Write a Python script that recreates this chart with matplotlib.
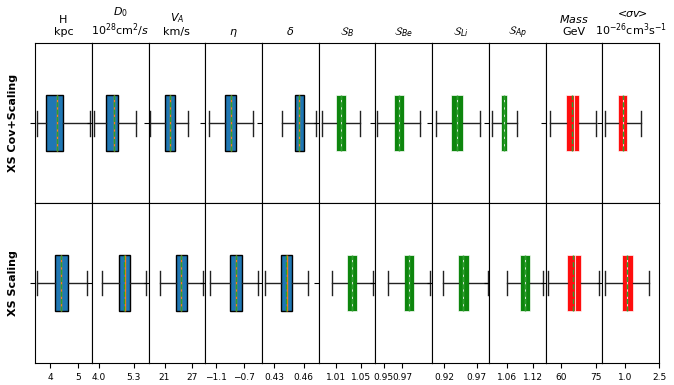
import numpy as np
import matplotlib
matplotlib.use("Agg")
import matplotlib.pyplot as plt

# column titles
titles = ["H\nkpc", "$D_0$\n$10^{28}$cm$^2/s$", "$V_A$\nkm/s", r"$\eta$", r"$\delta$",
          r"$\mathcal{S}_B$", r"$\mathcal{S}_{Be}$", r"$\mathcal{S}_{Li}$", r"$\mathcal{S}_{Ap}$",
          "$Mass$\nGeV", "$<\\!\\!\\sigma v\\!\\!>$\n$10^{-26}$cm$^3$s$^{-1}$"]
row_labels = ["XS Cov+Scaling", "XS Scaling"]
colors = ["C0"] * 5 + ["green"] * 4 + ["red"] * 2

# box stats per column: whislo, q1, med, q3, whishi, mean
cov_whislo = [3.53, 3.84, 17.9, -1.21, 0.438, 0.987, 0.9433, 0.9069, 1.0255, 55.1, 0.106]
cov_q1 = [3.83, 4.26, 21.15, -0.976, 0.451, 1.0095, 0.9609, 0.9307, 1.0455, 62.3, 0.69]
cov_med = [4.26, 4.57, 22.1, -0.895, 0.4554, 1.0175, 0.9667, 0.9398, 1.053, 65.6, 0.925]
cov_q3 = [4.47, 4.72, 23.2, -0.814, 0.4597, 1.0255, 0.9725, 0.9487, 1.0607, 67.6, 1.10]
cov_whishi = [5.44, 5.41, 26.1, -0.57, 0.4727, 1.048, 0.9891, 0.9752, 1.0822, 75.1, 1.70]
cov_mean = [4.25, 4.56, 22.1, -0.896, 0.4553, 1.0175, 0.9667, 0.9398, 1.053, 64.6, 0.90]

sc_whislo = [3.53, 4.14, 19.9, -1.196, 0.4214, 1.0025, 0.9543, 0.918, 1.0607, 54.6, 0.13]
sc_q1 = [4.17, 4.76, 23.5, -0.91, 0.4374, 1.0272, 0.9717, 0.9413, 1.09, 62.7, 0.855]
sc_med = [4.41, 4.97, 24.6, -0.824, 0.4427, 1.0356, 0.9775, 0.9494, 1.1016, 66.0, 1.10]
sc_q3 = [4.63, 5.15, 25.8, -0.739, 0.448, 1.044, 0.9833, 0.9586, 1.113, 68.4, 1.35]
sc_whishi = [5.34, 5.78, 29.4, -0.5, 0.464, 1.0693, 1.0, 0.9875, 1.1439, 76.4, 2.07]
sc_mean = [4.40, 4.96, 24.6, -0.825, 0.4426, 1.0356, 0.9775, 0.9494, 1.1016, 65.0, 1.075]

# axis limits and ticks per column
xlims = [(3.45, 5.51), (3.74, 5.86), (17.5, 29.9), (-1.257, -0.447), (0.418, 0.475),
         (0.9817, 1.0729), (0.9413, 1.0026), (0.9012, 0.9888), (1.0184, 1.1493),
         (53.4, 77.7), (0.0, 2.5)]
xticks = [[4, 5], [4.0, 5.3], [21, 27], [-1.1, -0.7], [0.43, 0.46], [1.01, 1.05],
          [0.95, 0.97], [0.92, 0.97], [1.06, 1.12], [60, 75], [1.0, 2.5]]
xticklabels = [["4", "5"], ["4.0", "5.3"], ["21", "27"], ["\u22121.1", "\u22120.7"],
               ["0.43", "0.46"], ["1.01", "1.05"], ["0.95", "0.97"], ["0.92", "0.97"],
               ["1.06", "1.12"], ["60", "75"], ["1.0", "2.5"]]

rows = [
    (cov_whislo, cov_q1, cov_med, cov_q3, cov_whishi, cov_mean),
    (sc_whislo, sc_q1, sc_med, sc_q3, sc_whishi, sc_mean),
]

fig, axes = plt.subplots(2, 11, figsize=(6.74, 3.85), dpi=100)
fig.subplots_adjust(left=0.052, right=0.978, top=0.888, bottom=0.057, wspace=0, hspace=0)

for r in range(2):
    wlo, q1, med, q3, whi, mean = rows[r]
    for c in range(11):
        ax = axes[r, c]
        stats = [dict(whislo=wlo[c], q1=q1[c], med=med[c], q3=q3[c], whishi=whi[c],
                      mean=mean[c], fliers=[])]
        if c < 5:
            boxp = dict(facecolor=colors[c], edgecolor="black", linewidth=1)
            medp = dict(color="C1", linewidth=1)
        else:
            boxp = dict(facecolor=colors[c], edgecolor="#ffffff", linewidth=0.5, alpha=0.95)
            medp = dict(color="white", linewidth=0.8, alpha=0.8)
        ax.bxp(stats, positions=[1], widths=0.35, capwidths=0.155, orientation="horizontal",
               patch_artist=True, showmeans=True, meanline=True,
               boxprops=boxp, medianprops=medp,
               meanprops=dict(color="C2", linestyle="--", linewidth=1),
               whiskerprops=dict(color="#222222"), capprops=dict(color="#222222"))
        ax.set_ylim(0.5, 1.5)
        ax.set_yticks([1])
        ax.set_yticklabels([])
        ax.set_xlim(*xlims[c])
        ax.set_xticks(xticks[c])
        if r == 1:
            ax.set_xticklabels(xticklabels[c], fontsize=6.5)
        else:
            ax.set_xticklabels([])
            ax.tick_params(axis="x", bottom=False)
            ax.set_title(titles[c], fontsize=8)
    axes[r, 0].set_ylabel(row_labels[r], fontsize=8, fontweight="bold", labelpad=5)

fig.savefig("out.png", dpi=100)
